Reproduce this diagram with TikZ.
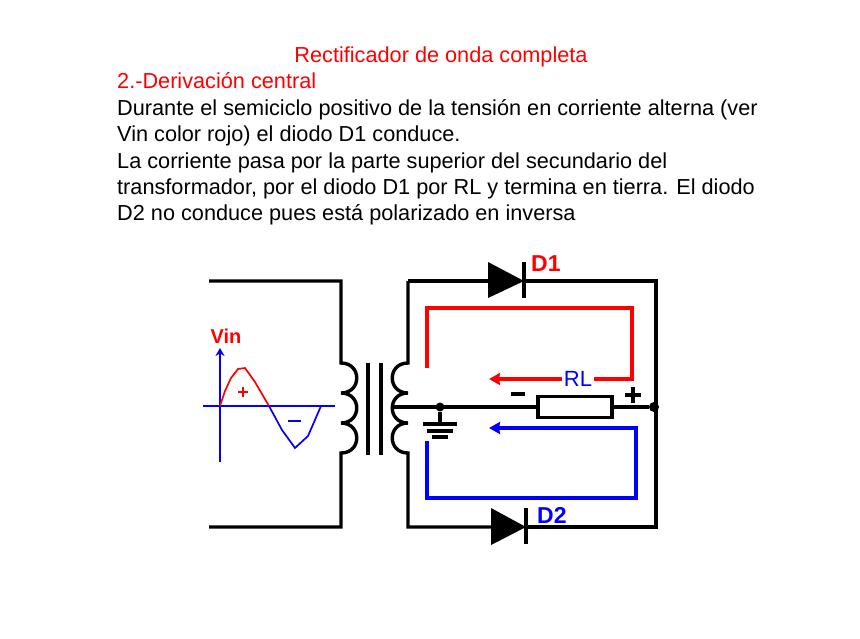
\documentclass[tikz,border=0pt]{standalone}
\usepackage{fontspec}
\setmainfont{Liberation Sans}
\usetikzlibrary{positioning}
\usetikzlibrary{arrows.meta}

\begin{document}
\begin{tikzpicture}[x=1pt,y=-1pt,
   txt/.style={anchor=base west,inner sep=0pt,font=\fontsize{21.7}{24}\selectfont},
   wire/.style={line width=3.4pt,line join=miter},
   loopred/.style={line width=3.7pt,red,line join=miter},
   loopblue/.style={line width=3.7pt,blue,line join=miter},
   axisv/.style={line width=2pt,blue},
   lbl/.style={inner sep=0pt,font=\fontsize{#1}{#1}\selectfont\bfseries},
   lbl/.default=23]
 \useasboundingbox (0,0) rectangle (860,638);

 %texto
 \node[txt,red,anchor=base] (title) at (441,62) {Rectificador de onda completa};
 \node[txt,red] (l_sub) at (117,88) {2.-Derivación central};
 \node[txt] (l_1) at (117,115) {Durante el semiciclo positivo de la tensión en corriente alterna (ver};
 \node[txt] (l_2) at (117,141) {Vin color rojo) el diodo D1 conduce.};
 \node[txt] (l_3) at (117,168) {La corriente pasa por la parte superior del secundario del};
 \node[txt] (l_4) at (117,194) {transformador, por el diodo D1 por RL y termina en tierra. El diodo};
 \node[txt] (l_5) at (117,220) {D2 no conduce pues está polarizado en inversa};

 %primario
 \coordinate (p_a) at (209,281);
 \coordinate (p_b) at (341,281);
 \coordinate (p_t) at (341,363);
 \coordinate (p_1) at (341,393);
 \coordinate (p_2) at (341,423);
 \coordinate (p_d) at (341,453);
 \coordinate (p_c) at (341,527);
 \coordinate (p_e) at (209,527);
 \draw[wire] (p_a) -- (p_b) -- (p_t)
    .. controls (362,363) and (362,393) .. (p_1)
    .. controls (362,393) and (362,423) .. (p_2)
    .. controls (362,423) and (362,453) .. (p_d)
    -- (p_c) -- (p_e);

 %nucleo
 \draw[wire] (368,363) -- (368,455);
 \draw[wire] (381,363) -- (381,455);

 %secundario
 \coordinate (s_t) at (408,363);
 \coordinate (s_1) at (408,393);
 \coordinate (s_2) at (408,423);
 \coordinate (s_d) at (408,453);
 \coordinate (s_a) at (408,281);
 \coordinate (s_b) at (408,527);
 \coordinate (r_a) at (656,281);
 \coordinate (r_b) at (656,527);
 \coordinate (tap) at (392,407);

 %diodos
 \coordinate (d1_c) at (524,281);
 \coordinate (d2_c) at (526,527);
 \coordinate (d1_a) at (488,281);
 \coordinate (d2_a) at (491,527);

 \draw[wire] (s_a) -- (d1_a);
 \draw[wire] (d1_c) -- (r_a) -- (r_b) -- (d2_c);
 \draw[wire] (d2_a) -- (s_b) -- (s_d)
    .. controls (387,453) and (387,423) .. (s_2)
    .. controls (387,423) and (387,393) .. (s_1)
    .. controls (387,393) and (387,363) .. (s_t) -- (s_a);
 \fill (488,262) -- (524,281) -- (488,298) -- cycle;
 \draw[wire] (524,262) -- (524,298);
 \fill (491,508) -- (526,527) -- (491,545) -- cycle;
 \draw[wire] (526,508) -- (526,544);

 \node[lbl,red,anchor=west] (d1) at (531,264) {D1};
 \node[lbl,blue,anchor=west] (d2) at (537,515) {D2};

 %carga y tierra
 \node[draw,line width=3.4pt,minimum width=74pt,minimum height=21pt,inner sep=0pt] (rl) at (575,407) {};
 \node[circle,fill=black,inner sep=0pt,minimum size=10pt] (n_r) at (654,407) {};
 \node[circle,fill=black,inner sep=0pt,minimum size=9pt] (n_g) at (440,407) {};
 \draw[wire] (tap) -- (rl);
 \draw[wire] (rl) -- (n_r);
 \coordinate (g_0) at (440,424);
 \draw[wire] (n_g) -- (g_0);
 \draw[wire] (423,424) -- (457,424);
 \draw[wire] (427,431) -- (453,431);
 \draw[wire] (432,437) -- (448,437);
 \draw[wire] (511,394) -- (525,394);
 \draw[wire] (625,395) -- (641,395);
 \draw[wire] (633,387) -- (633,403);

 %corriente
 \node[inner sep=2pt,font=\fontsize{22}{22}\selectfont,blue] (rl_t) at (578,379) {RL};
 \coordinate (red_s) at (427,368);
 \coordinate (red_e) at (489,379);
 \draw[loopred] (red_s) -- (427,308) -- (632,308) -- (632,379) -- (rl_t);
 \draw[loopred,-{Stealth[length=11pt,width=12pt,inset=1pt]}] (rl_t) -- (red_e);
 \coordinate (blue_s) at (427,441);
 \coordinate (blue_e) at (489,428);
 \draw[loopblue,-{Stealth[length=11pt,width=12pt,inset=1pt]}] (blue_s) -- (427,498) -- (636,498) -- (636,428) -- (blue_e);

 %tension de entrada
 \coordinate (ax_o) at (220,462);
 \coordinate (ax_t) at (220,348);
 \coordinate (ax_l) at (203,406);
 \coordinate (ax_r) at (335,406);
 \draw[axisv,-{Stealth[length=8pt,width=9pt]}] (ax_o) -- (ax_t);
 \draw[axisv] (ax_l) -- (ax_r);
 \draw[red,line width=1.7pt] (220,406) -- (225,391) -- (231,378) -- (238,369) -- (245,368) -- (255,382) -- (269,406);
 \draw[blue,line width=1.7pt] (269,406) -- (282,430) -- (295,448) -- (308,436) -- (321,406);
 \draw[red,line width=2pt] (238,392) -- (248,392);
 \draw[red,line width=2pt] (243,387) -- (243,397);
 \draw[blue,line width=2pt] (288,421) -- (301,421);
 \node[inner sep=0pt,red,font=\fontsize{20}{20}\selectfont\bfseries] (vin) at (226,336) {Vin};
\end{tikzpicture}
\end{document}
